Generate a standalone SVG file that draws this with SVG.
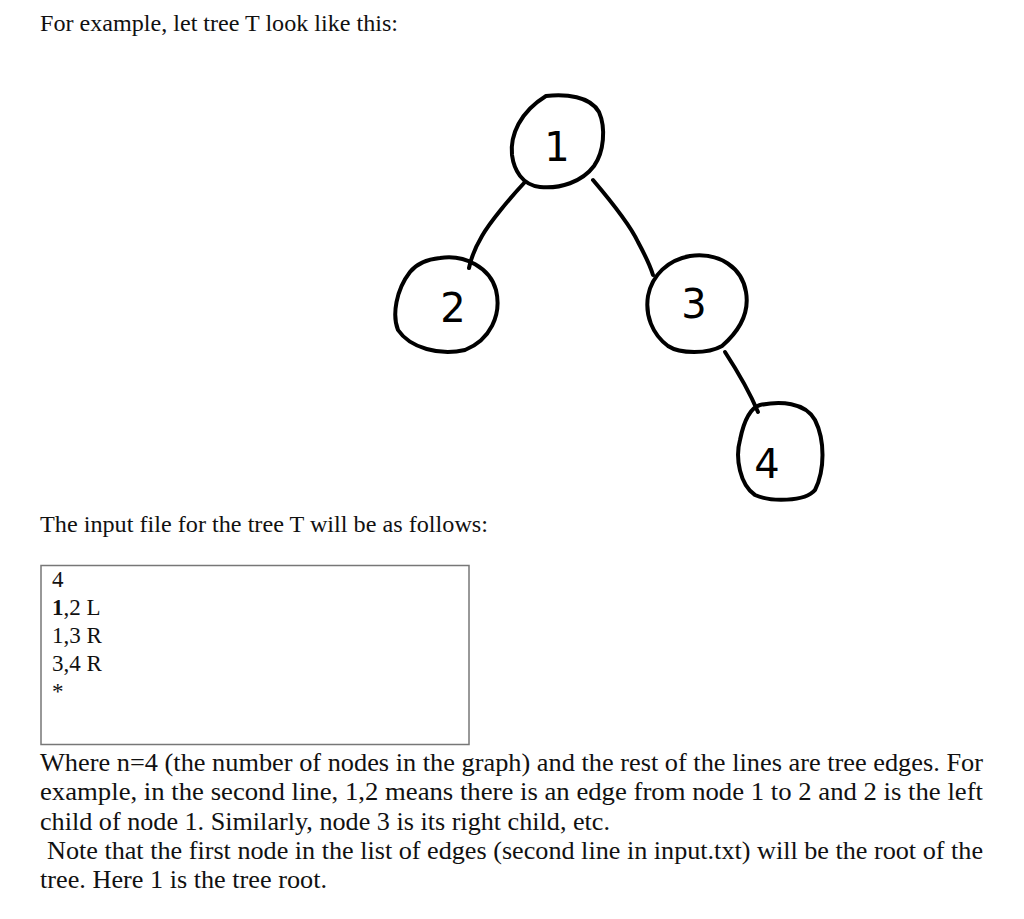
<svg xmlns="http://www.w3.org/2000/svg" width="1024" height="919" viewBox="0 0 1024 919">
<style>
.t{font-family:"Liberation Serif","Times New Roman",serif;font-size:24px;fill:#111}
.p{font-family:"Liberation Serif","Times New Roman",serif;font-size:26px;fill:#111}
.b{font-family:"Liberation Serif","Times New Roman",serif;font-size:23px;fill:#111}
.hand{fill:none;stroke:#000;stroke-width:4;stroke-linecap:round;stroke-linejoin:round}
.dig{font-family:"DejaVu Sans","Liberation Sans",sans-serif;font-size:40px;fill:#000;text-anchor:middle}
</style>
<rect width="1024" height="919" fill="#fff"/>
<text class="t" x="40" y="31" textLength="358" lengthAdjust="spacingAndGlyphs">For example, let tree T look like this:</text>
<g id="edges">
<path class="hand" d="M 525 182 C 510 198, 490 222, 482 236 C 475 248, 471 258, 469 268"/>
<path class="hand" d="M 593 180 C 610 200, 630 225, 638 242 C 645 255, 650 265, 653 275"/>
<path class="hand" d="M 725 352 C 738 372, 750 393, 758 412"/>
</g>
<g id="node1">
<path class="hand" d="M 546 96 C 566 94, 590 96, 599 112 C 606 128, 604 152, 594 166 C 582 182, 560 189, 540 187 C 522 185, 514 170, 512 155 C 510 135, 520 112, 546 96 Z"/>
<text class="dig" x="557" y="161">1</text>
</g>
<g id="node2">
<path class="hand" d="M 440 258 C 465 254, 490 268, 496 290 C 502 315, 490 340, 465 350 C 440 356, 410 348, 398 330 C 392 315, 396 290, 410 272 C 418 262, 430 259, 440 258 Z"/>
<text class="dig" x="453" y="322">2</text>
</g>
<g id="node3">
<path class="hand" d="M 690 256 C 720 252, 742 268, 746 292 C 750 315, 738 332, 722 346 C 708 354, 680 354, 668 346 C 652 334, 645 315, 648 296 C 652 275, 668 260, 690 256 Z"/>
<text class="dig" x="694" y="318">3</text>
</g>
<g id="node4">
<path class="hand" d="M 760 405 C 780 401, 805 402, 815 420 C 825 440, 825 470, 815 490 C 805 502, 770 502, 755 495 C 740 485, 735 458, 740 440 C 744 420, 750 408, 760 405 Z"/>
<text class="dig" x="767" y="478">4</text>
</g>
<text class="t" x="40" y="532" textLength="448" lengthAdjust="spacingAndGlyphs">The input file for the tree T will be as follows:</text>
<g id="inputbox">
<rect x="41" y="565.5" width="428" height="179" fill="#fff" stroke="#777" stroke-width="1.5"/>
<text class="b" x="52" y="587">4</text>
<text class="b" x="52" y="615"><tspan font-weight="bold">1</tspan>,2 L</text>
<text class="b" x="52" y="643">1,3 R</text>
<text class="b" x="52" y="671">3,4 R</text>
<text class="b" x="52" y="699">*</text>
</g>
<text class="p" x="40" y="771" textLength="943" lengthAdjust="spacingAndGlyphs">Where n=4 (the number of nodes in the graph) and the rest of the lines are tree edges. For</text>
<text class="p" x="40" y="800" textLength="943" lengthAdjust="spacingAndGlyphs">example, in the second line, 1,2 means there is an edge from node 1 to 2 and 2 is the left</text>
<text class="p" x="40" y="830" textLength="570" lengthAdjust="spacingAndGlyphs">child of node 1. Similarly, node 3 is its right child, etc.</text>
<text class="p" x="47" y="859" textLength="936" lengthAdjust="spacingAndGlyphs">Note that the first node in the list of edges (second line in input.txt) will be the root of the</text>
<text class="p" x="40" y="888" textLength="287" lengthAdjust="spacingAndGlyphs">tree. Here 1 is the tree root.</text>
</svg>
